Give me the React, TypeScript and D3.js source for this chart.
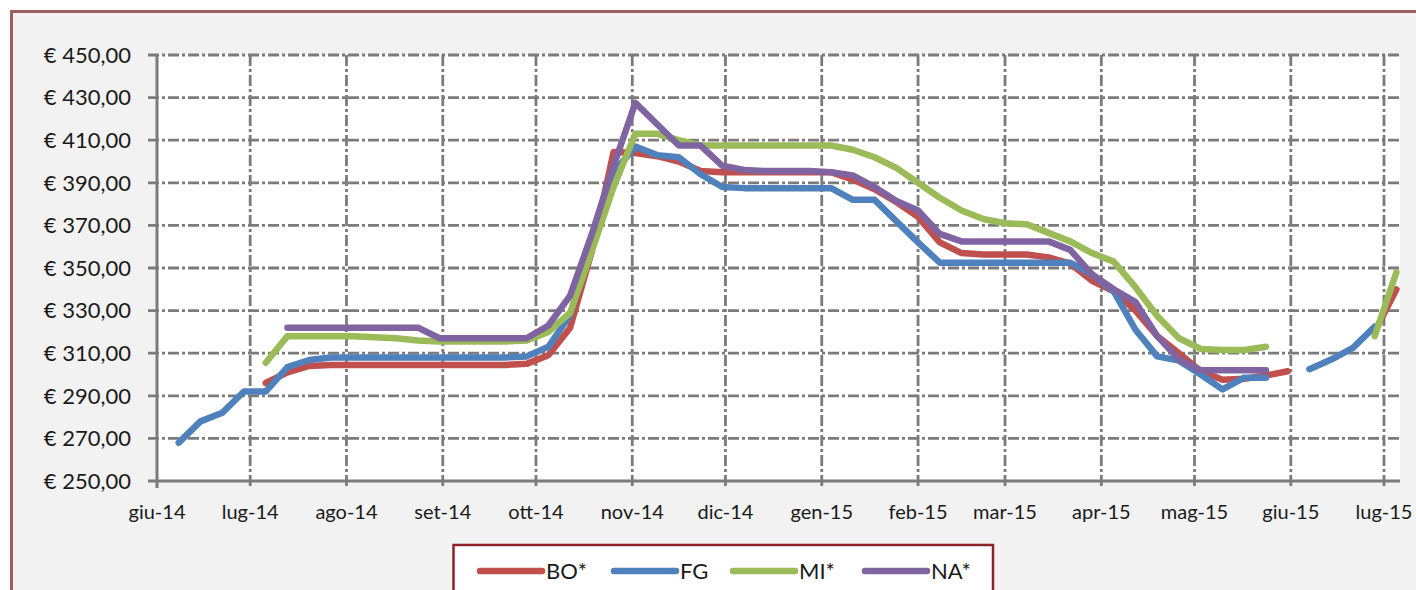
import React from "react";
import * as d3 from "d3";

// Weekly price observations (one per week, Sunday dates)
const weekDates = [
  "2014-06-08", "2014-06-15", "2014-06-22", "2014-06-29", "2014-07-06", "2014-07-13",
  "2014-07-20", "2014-07-27", "2014-08-03", "2014-08-10", "2014-08-17", "2014-08-24",
  "2014-08-31", "2014-09-07", "2014-09-14", "2014-09-21", "2014-09-28", "2014-10-05",
  "2014-10-12", "2014-10-19", "2014-10-26", "2014-11-02", "2014-11-09", "2014-11-16",
  "2014-11-23", "2014-11-30", "2014-12-07", "2014-12-14", "2014-12-21", "2014-12-28",
  "2015-01-04", "2015-01-11", "2015-01-18", "2015-01-25", "2015-02-01", "2015-02-08",
  "2015-02-15", "2015-02-22", "2015-03-01", "2015-03-08", "2015-03-15", "2015-03-22",
  "2015-03-29", "2015-04-05", "2015-04-12", "2015-04-19", "2015-04-26", "2015-05-03",
  "2015-05-10", "2015-05-17", "2015-05-24", "2015-05-31", "2015-06-07", "2015-06-14",
  "2015-06-21", "2015-06-28", "2015-07-05",
];

const boValues = [
  null, null, null, null, 296, 301, 304, 304.5, 304.5, 304.5, 304.5, 304.5,
  304.5, 304.5, 304.5, 304.5, 305, 309, 322, 358, 404.5, 404, 402.5, 400,
  395.5, 395, 395, 395, 395, 395, 395, 391.5, 387, 381, 374, 362,
  357, 356.3, 356.3, 356.3, 355, 352, 344, 339, 330, 318, 310, 301.5,
  297.5, 298, 299.5, 301.5, null, null, null, 320, 340,
];

const fgValues = [
  268, 278, 282, 292, 292, 303.5, 306.8, 308, 308, 308, 308, 308,
  308, 308, 308, 308, 308.5, 313, 328, 362, 395, 407, 403, 402,
  394, 388, 387.5, 387.5, 387.5, 387.5, 387.5, 382, 382, 372, 362, 352.5,
  352.5, 352.5, 352.5, 352.5, 352.5, 352.5, 347, 339, 321, 308.5, 306.5, 300,
  293, 298.5, 298.5, null, 302.5, 307, 312.5, 322.5, null,
];

const miValues = [
  null, null, null, null, 305.5, 318, 318, 318, 318, 317.5, 317, 316,
  315.5, 315.5, 315.5, 315.5, 316, 320, 329, 358, 388, 413, 413, 410,
  407.5, 407.5, 407.5, 407.5, 407.5, 407.5, 407.5, 405.5, 402, 397, 390, 383,
  377, 373, 371, 370.5, 366.5, 362.5, 357, 353, 341, 327.5, 317, 312,
  311.5, 311.5, 313, null, null, null, null, 318, 348,
];

const naValues = [
  null, null, null, null, null, 322, 322, 322, 322, 322, 322, 322,
  317, 317, 317, 317, 317, 323, 337, 366, 398, 427.5, 417.5, 407.5,
  407.5, 398, 396, 395.5, 395.5, 395.5, 395, 393.5, 388, 381.5, 377, 366,
  362.5, 362.5, 362.5, 362.5, 362.5, 358.5, 347, 340, 334, 318, 307, 302,
  302, 302, 302, null, null, null, null, null, null,
];

const seriesNames = ["BO*", "FG", "MI*", "NA*"];
const seriesColors = ["#c0504d", "#4f81bd", "#9bbb59", "#8064a2"];
const seriesValues = [boValues, fgValues, miValues, naValues];

const monthTicks = [
  "2014-06-01", "2014-07-01", "2014-08-01", "2014-09-01", "2014-10-01", "2014-11-01",
  "2014-12-01", "2015-01-01", "2015-02-01", "2015-03-01", "2015-04-01", "2015-05-01",
  "2015-06-01", "2015-07-01",
];
const monthLabels = [
  "giu-14", "lug-14", "ago-14", "set-14", "ott-14", "nov-14", "dic-14",
  "gen-15", "feb-15", "mar-15", "apr-15", "mag-15", "giu-15", "lug-15",
];
const yTicks = [250, 270, 290, 310, 330, 350, 370, 390, 410, 430, 450];

const parse = d3.utcParse("%Y-%m-%d");
const itLocale = d3.formatLocale({
  decimal: ",",
  thousands: ".",
  grouping: [3],
  currency: ["€ ", ""],
});
const fmtEuro = itLocale.format("$.2f");

const FONT = "Lato, 'Open Sans', sans-serif";

export default function App() {
  const width = 1416;
  const height = 590;
  const plot = { left: 157, top: 55, right: 1400, bottom: 481 };

  const x = d3
    .scaleUtc()
    .domain([parse(monthTicks[0])!, parse(monthTicks[monthTicks.length - 1])!])
    .range([157, 1384]);
  const y = d3.scaleLinear().domain([250, 450]).range([plot.bottom, plot.top]);

  const dates = weekDates.map((d) => parse(d)!);

  const line = d3
    .line<[Date, number | null]>()
    .defined((d) => d[1] != null)
    .x((d) => x(d[0]))
    .y((d) => y(d[1] as number));

  const gridColor = "#7b7b7b";
  const dash = "11,3,3,3";

  // legend layout
  const legend = { left: 453.5, top: 545, right: 993, midY: 571 };
  const legendItemX = [480, 614, 733, 865];
  const swatchLen = 62;

  return (
    <svg
      width={width}
      height={height}
      style={{ position: "absolute", left: 0, top: 0, display: "block" }}
    >
      <rect x={0} y={0} width={width} height={height} fill="#ffffff" />
      {/* chart frame */}
      <rect
        x={11.5}
        y={11.5}
        width={width + 20}
        height={height + 20}
        fill="#f2f2f2"
        stroke="#9e5f5f"
        strokeWidth={3}
      />
      {/* plot area */}
      <rect
        x={plot.left}
        y={plot.top}
        width={plot.right - plot.left}
        height={plot.bottom - plot.top}
        fill="#ffffff"
      />

      {/* horizontal gridlines */}
      {yTicks
        .filter((v) => v !== 250)
        .map((v) => (
          <line
            key={"h" + v}
            x1={148}
            x2={plot.right}
            y1={y(v)}
            y2={y(v)}
            stroke={gridColor}
            strokeWidth={2.8}
            strokeDasharray={dash}
          />
        ))}
      {/* vertical gridlines */}
      {monthTicks.slice(1).map((t) => (
        <line
          key={"v" + t}
          x1={x(parse(t)!)}
          x2={x(parse(t)!)}
          y1={plot.top}
          y2={plot.bottom + 7}
          stroke={gridColor}
          strokeWidth={2.8}
          strokeDasharray={dash}
        />
      ))}
      {/* axes */}
      <line
        x1={148}
        x2={plot.right}
        y1={plot.bottom}
        y2={plot.bottom}
        stroke={gridColor}
        strokeWidth={3}
      />
      <line
        x1={plot.left}
        x2={plot.left}
        y1={plot.top}
        y2={plot.bottom + 7}
        stroke={gridColor}
        strokeWidth={3}
      />

      {/* y labels */}
      {yTicks.map((v) => (
        <text
          key={"yl" + v}
          x={131}
          y={y(v)}
          dy="0.35em"
          textAnchor="end"
          fontFamily={FONT}
          fontSize={22}
          fill="#1a1a1a"
        >
          {fmtEuro(v)}
        </text>
      ))}
      {/* x labels */}
      {monthTicks.map((t, i) => (
        <text
          key={"xl" + t}
          x={x(parse(t)!)}
          y={519}
          textAnchor="middle"
          fontFamily={FONT}
          fontSize={20}
          fill="#1a1a1a"
        >
          {monthLabels[i]}
        </text>
      ))}

      {/* series */}
      {seriesValues.map((vals, si) => (
        <path
          key={"s" + si}
          d={line(dates.map((d, i) => [d, vals[i]] as [Date, number | null])) || ""}
          fill="none"
          stroke={seriesColors[si]}
          strokeWidth={6.5}
          strokeLinejoin="round"
          strokeLinecap="round"
        />
      ))}

      {/* legend */}
      <rect
        x={legend.left}
        y={legend.top}
        width={legend.right - legend.left}
        height={80}
        fill="#ffffff"
        stroke="#8d2227"
        strokeWidth={2.5}
      />
      {seriesNames.map((name, i) => (
        <g key={"lg" + name}>
          <line
            x1={legendItemX[i]}
            x2={legendItemX[i] + swatchLen}
            y1={legend.midY}
            y2={legend.midY}
            stroke={seriesColors[i]}
            strokeWidth={6.5}
            strokeLinecap="round"
          />
          <text
            x={legendItemX[i] + swatchLen + 4}
            y={legend.midY}
            dy="0.35em"
            fontFamily={FONT}
            fontSize={22}
            fill="#1a1a1a"
          >
            {name}
          </text>
        </g>
      ))}
    </svg>
  );
}
